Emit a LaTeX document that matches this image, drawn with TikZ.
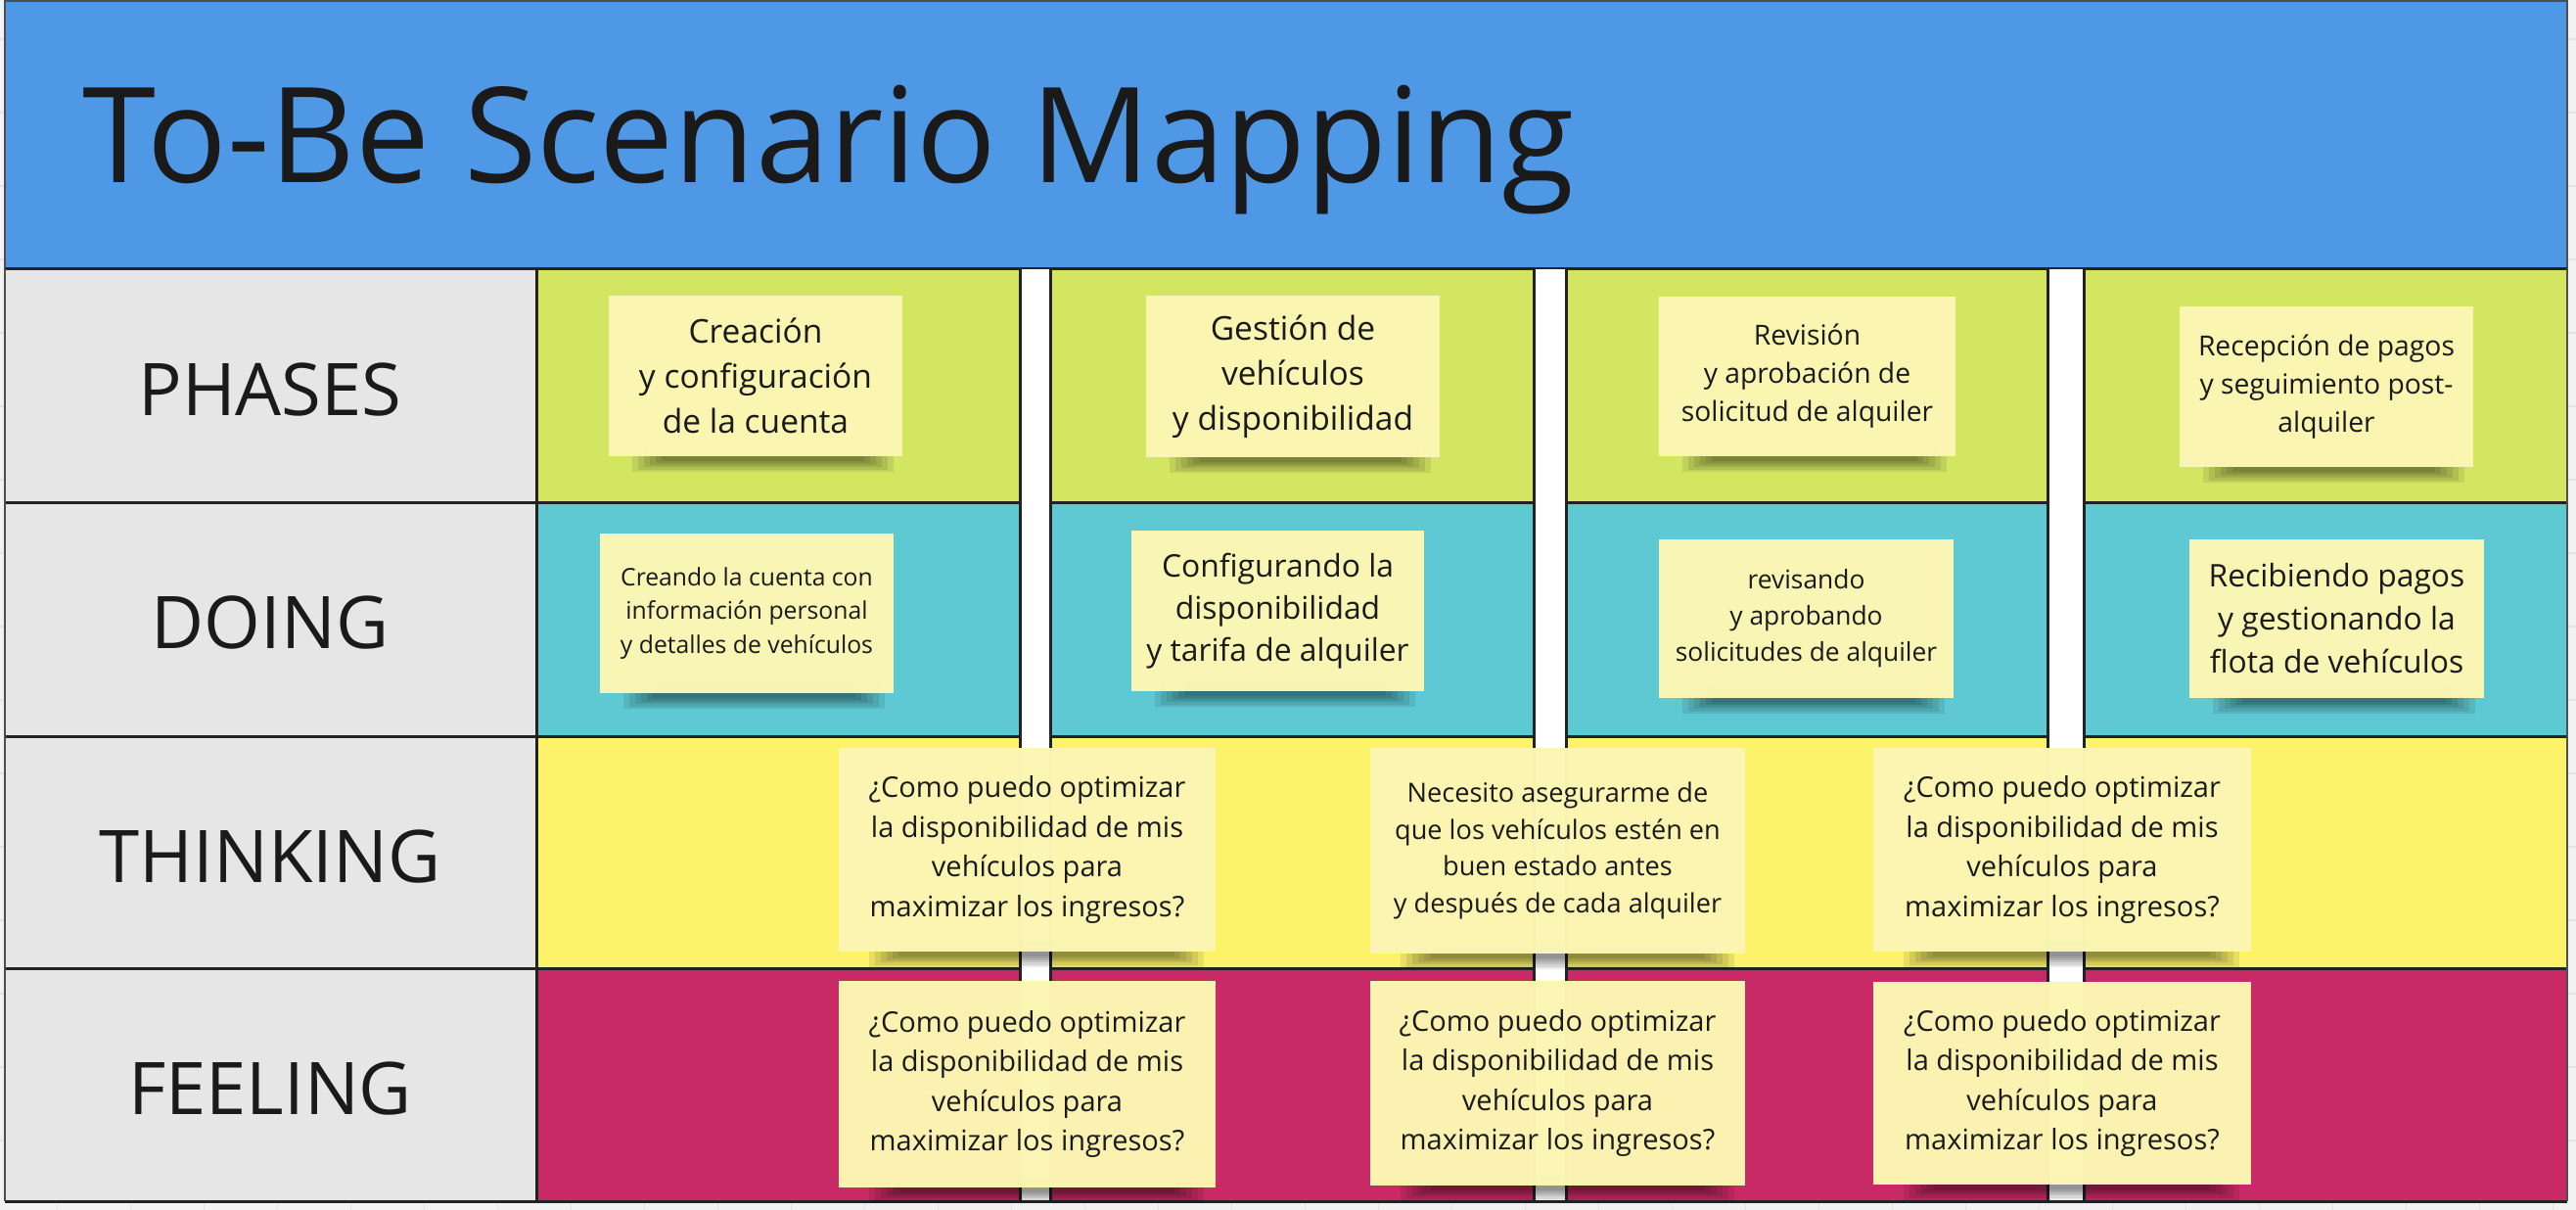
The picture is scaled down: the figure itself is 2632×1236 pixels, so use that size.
\documentclass[tikz,border=0pt]{standalone}
\usepackage{fontspec}
\setmainfont{Open Sans}

\definecolor{canvas}{HTML}{F2F2F2}
\definecolor{gridline}{HTML}{E4E4E4}
\definecolor{headerblue}{HTML}{4F98E6}
\definecolor{labelgray}{HTML}{E6E6E6}
\definecolor{phasegreen}{HTML}{D3E662}
\definecolor{doingcyan}{HTML}{5FC9D3}
\definecolor{thinkyellow}{HTML}{FDF36B}
\definecolor{feelmagenta}{HTML}{C72A64}
\definecolor{stickyyellow}{HTML}{FCF6B4}
\definecolor{inkdark}{HTML}{1A1A1A}
\definecolor{ruleline}{HTML}{222222}

% sticky note: name, x0, y0, x1, y1 (px), font size, leading, text
\newcommand\postit[8]{%
  \pgfmathsetmacro\pw{#4-#2}%
  \pgfmathsetmacro\ph{#5-#3}%
  \foreach \k in {0,...,5}{%
    \fill[black, opacity=0.085]
      ({#2+0.08*\pw+6*\k},{#5-10}) rectangle ({#4-0.03*\pw-6*\k},{#5+16-2.3*\k});
  }%
  \node[sticky, minimum width={\pw*0.28453pt}, minimum height={\ph*0.28453pt},
        font={\fontsize{#6}{#7}\selectfont}]
    (#1) at ({(#2+#4)/2},{(#3+#5)/2}) {#8};
}

\begin{document}
\begin{tikzpicture}[x=0.01cm, y=-0.01cm,
  rule/.style={draw=ruleline, line width=0.03cm},
  thinrule/.style={draw=ruleline!80, line width=0.02cm},
  sticky/.style={rectangle, fill=stickyyellow, fill opacity=0.985, text opacity=1,
                 text=inkdark, align=center, inner sep=0pt},
  rowlabel/.style={anchor=base, inner sep=0pt, text=inkdark,
                   font={\fontsize{21.1pt}{25pt}\selectfont}},
  bar/.style={fill=white}
]
\useasboundingbox (0,0) rectangle (2632,1236);

% canvas with its faint grid
\fill[canvas] (0,0) rectangle (2632,1236);
\foreach \gx in {58.5,133.5,...,2632} \draw[gridline, line width=0.015cm] (\gx,0) -- (\gx,1236);
\foreach \gy in {40,115,...,1236} \draw[gridline, line width=0.015cm] (0,\gy) -- (2632,\gy);

% title band
\fill[headerblue] (5,1) rectangle (2623,274);
\draw[thinrule] (5,1) rectangle (2623,274);
\node[anchor=base west, inner sep=0pt, text=inkdark,
      font={\fontsize{38.5pt}{44pt}\selectfont}] (title) at (84,186) {To-Be Scenario Mapping};

% rows
\fill[labelgray]   (5,274)   rectangle (547,1227);
\fill[phasegreen]  (547,274) rectangle (2623,513);
\fill[doingcyan]   (547,513) rectangle (2623,752);
\fill[thinkyellow] (547,752) rectangle (2623,989);
\fill[feelmagenta] (547,989) rectangle (2623,1227);

\foreach \ry in {274,513,752,989,1227} \draw[rule] (5,\ry) -- (2623,\ry);
\draw[rule] (548,274) -- (548,1227);
\draw[thinrule] (5,274) -- (5,1227);
\draw[thinrule] (2623,274) -- (2623,1227);

% white column dividers
\foreach \xa/\xb in {1042/1073, 1567/1600, 2092/2129}{
  \fill[bar] (\xa,275) rectangle (\xb,1226);
  \draw[rule] (\xa,275) -- (\xa,1227);
  \draw[rule] (\xb,275) -- (\xb,1227);
}

% row labels
\node[rowlabel] (lphases)   at (276,424)  {PHASES};
\node[rowlabel] (ldoing)    at (276,662)  {DOING};
\node[rowlabel] (lthinking) at (276,901)  {THINKING};
\node[rowlabel] (lfeeling)  at (276,1138) {FEELING};

% phases
\postit{ph1}{622}{302}{922}{466}{9.53pt}{13.1pt}{Creación\\y configuración\\de la cuenta}
\postit{ph2}{1171}{302}{1471}{467}{9.53pt}{13.1pt}{Gestión de\\vehículos\\y disponibilidad}
\postit{ph3}{1695}{303}{1998}{466}{8.04pt}{11.1pt}{Revisión\\y aprobación de\\solicitud de alquiler}
\postit{ph4}{2227}{313}{2527}{477}{8.04pt}{11.1pt}{Recepción de pagos\\y seguimiento post-\\alquiler}

% doing
\postit{do1}{613}{545}{913}{708}{7.03pt}{9.82pt}{Creando la cuenta con\\información personal\\y detalles de vehículos}
\postit{do2}{1156}{542}{1455}{706}{9.05pt}{12.23pt}{Configurando la\\disponibilidad\\y tarifa de alquiler}
\postit{do3}{1695}{551}{1996}{713}{7.5pt}{10.5pt}{revisando\\y aprobando\\solicitudes de alquiler}
\postit{do4}{2237}{551}{2538}{713}{9.05pt}{12.5pt}{Recibiendo pagos\\y gestionando la\\flota de vehículos}

% thinking
\postit{th1}{857}{764}{1242}{972}{8.25pt}{11.52pt}{¿Como puedo optimizar\\la disponibilidad de mis\\vehículos para\\maximizar los ingresos?}
\postit{th2}{1400}{764}{1783}{974}{7.72pt}{10.67pt}{Necesito asegurarme de\\que los vehículos estén en\\buen estado antes\\y después de cada alquiler}
\postit{th3}{1914}{764}{2300}{972}{8.25pt}{11.52pt}{¿Como puedo optimizar\\la disponibilidad de mis\\vehículos para\\maximizar los ingresos?}

% feeling
\postit{fe1}{857}{1002}{1242}{1213}{8.25pt}{11.52pt}{¿Como puedo optimizar\\la disponibilidad de mis\\vehículos para\\maximizar los ingresos?}
\postit{fe2}{1400}{1002}{1783}{1211}{8.25pt}{11.52pt}{¿Como puedo optimizar\\la disponibilidad de mis\\vehículos para\\maximizar los ingresos?}
\postit{fe3}{1914}{1003}{2300}{1210}{8.25pt}{11.52pt}{¿Como puedo optimizar\\la disponibilidad de mis\\vehículos para\\maximizar los ingresos?}
\end{tikzpicture}
\end{document}
